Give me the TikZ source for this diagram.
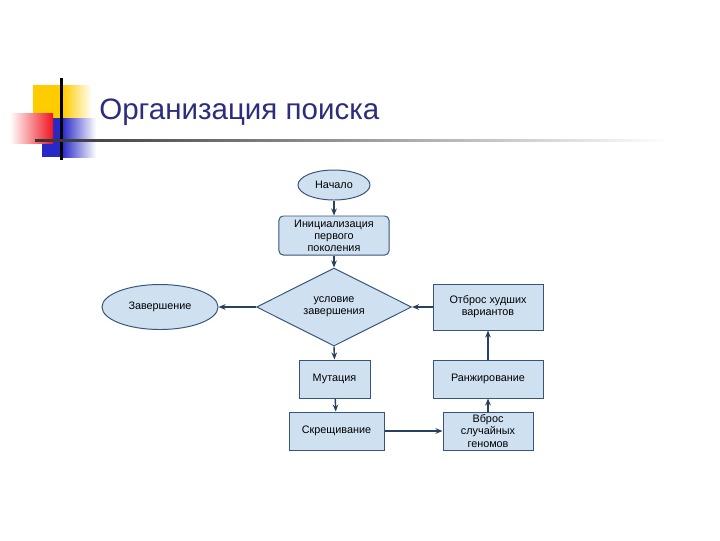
\documentclass[tikz,border=0pt]{standalone}
\usepackage{fontspec}
\setmainfont{Liberation Sans}
\usetikzlibrary{shapes.geometric, arrows.meta, positioning}
\usepackage{xcolor}
\definecolor{boxfill}{RGB}{207,224,241}
\definecolor{boxline}{RGB}{55,85,120}
\definecolor{arrline}{RGB}{40,65,95}
\definecolor{titleblue}{RGB}{45,45,125}
\definecolor{decoyellow}{RGB}{255,204,0}
\definecolor{decored}{RGB}{240,20,30}
\definecolor{decoblue}{RGB}{40,40,200}

\begin{document}
\begin{tikzpicture}[
    x=0.025cm, y=-0.025cm,
    term/.style={ellipse, draw=boxline, fill=boxfill, line width=0.7pt,
                 inner sep=1pt, align=center, font=\fontsize{7.7}{8.6}\selectfont},
    proc/.style={rectangle, draw=boxline, fill=boxfill, line width=0.7pt,
                 inner sep=1pt, align=center, font=\fontsize{7.7}{8.6}\selectfont},
    cond/.style={diamond, draw=boxline, fill=boxfill, line width=0.7pt,
                 aspect=2, inner sep=1pt, align=center,
                 minimum width=3.875cm, minimum height=1.95cm,
                 font=\fontsize{7.7}{8.6}\selectfont},
    arr/.style={-{Stealth[length=5pt, width=4pt]}, line width=1pt, color=arrline}
]
\useasboundingbox (0,0) rectangle (720,540);

% title decoration
\fill[decoyellow] (33,85) rectangle (63,118);
\shade[left color=decoyellow, right color=white] (63,85) rectangle (92,118);
\fill[decoblue] (42,118) rectangle (62,157);
\shade[left color=decoblue, right color=white] (62,118) rectangle (96,157);
\shade[left color=white, right color=decored] (10,113) rectangle (53,143);
\fill[black] (60,78) rectangle (62.5,160);
\shade[left color=black!80, right color=white] (35,139) rectangle (670,141.5);

\node[anchor=west, text=titleblue, font=\fontsize{21}{25}\selectfont, inner sep=0pt]
    (title) at (99,112) {Организация поиска};

% flowchart
\node[term, minimum width=1.8cm, minimum height=0.75cm] (start) at (334,185) {Начало};
\node[proc, rounded corners=3pt, minimum width=2.75cm, minimum height=0.975cm]
    (init) at (334,235.5) {Инициализация\\первого\\поколения};
\node[cond] (check) at (334,307) {условие\\завершения};
\node[term, minimum width=2.9cm, minimum height=1.125cm] (finish) at (160,307) {Завершение};
\node[proc, minimum width=2.75cm, minimum height=1.15cm] (drop) at (488,307) {Отброс худших\\вариантов};
\node[proc, minimum width=2.75cm, minimum height=0.95cm] (rank) at (488,379) {Ранжирование};
\node[proc, minimum width=1.775cm, minimum height=0.95cm] (mut) at (334.5,379) {Мутация};
\node[proc, minimum width=2.375cm, minimum height=0.95cm] (cross) at (336.5,431) {Скрещивание};
\node[proc, minimum width=2.25cm, minimum height=0.95cm] (inject) at (488,431) {Вброс\\случайных\\геномов};

\draw[arr] (start) -- (init);
\draw[arr] (init) -- (check);
\draw[arr] (check.west) -- (finish.east);
\draw[arr] (drop.west) -- (check.east);
\draw[arr] (check.south) -- (mut.north);
\draw[arr] (mut) -- (cross);
\draw[arr] (cross.east) -- (inject.west);
\draw[arr] (inject) -- (rank);
\draw[arr] (rank) -- (drop);

\end{tikzpicture}
\end{document}
